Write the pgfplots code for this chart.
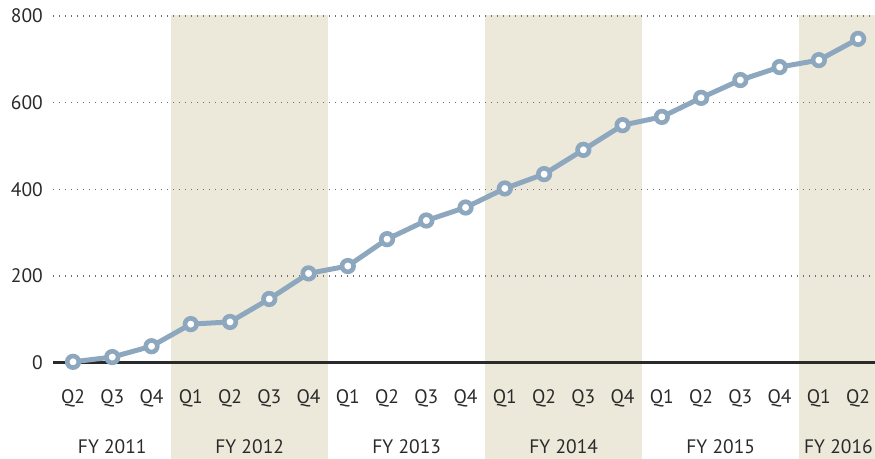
\documentclass[border=0pt]{standalone}
\usepackage{pgfplots}
\pgfplotsset{compat=1.18}
\usepackage{fontspec}
\setmainfont{PT Sans}
\definecolor{linec}{HTML}{8DA7BE}
\definecolor{band}{HTML}{EDE9DA}
\definecolor{txt}{HTML}{2A2A2A}
\definecolor{gridc}{HTML}{6E6E6E}
\begin{document}
\begin{tikzpicture}
\begin{axis}[
  set layers,
  at={(53pt,95.3pt)}, anchor=south west,
  scale only axis,
  width=822pt, height=346.8pt,
  xmin=-0.51, xmax=20.43,
  ymin=0, ymax=800,
  clip=false,
  axis line style={draw=none},
  major tick length=0pt,
  xtick={0,...,20},
  xticklabels={Q2,Q3,Q4,Q1,Q2,Q3,Q4,Q1,Q2,Q3,Q4,Q1,Q2,Q3,Q4,Q1,Q2,Q3,Q4,Q1,Q2},
  ytick={0,200,400,600,800},
  ymajorgrids,
  grid style={gridc, line width=1.4pt, dash pattern=on 1.4pt off 4.6pt},
  tick label style={font=\fontsize{19.5}{22}\selectfont, text=txt},
  yticklabel style={anchor=east, inner sep=0pt, xshift=-10pt},
  xticklabel style={anchor=center, inner sep=0pt, yshift=-36pt},
  /pgf/number format/assume math mode=true,
]
\begin{pgfonlayer}{axis background}
\fill[band] (axis cs:2.5,-240) rectangle (axis cs:6.5,803);
\fill[band] (axis cs:10.5,-240) rectangle (axis cs:14.5,803);
\fill[band] (axis cs:18.5,-240) rectangle (axis cs:20.6,803);
\end{pgfonlayer}
\draw[txt, line width=3pt] (axis cs:-0.51,0) -- (axis cs:20.43,0);
\addplot[color=linec, line width=5pt, mark=*, mark size=5.8pt,
  mark options={fill=white, draw=linec, line width=4.6pt}]
  coordinates {
  (0,2) (1,13) (2,38) (3,89) (4,94) (5,147) (6,206) (7,223) (8,285)
  (9,328) (10,358) (11,402) (12,435) (13,491) (14,548) (15,567)
  (16,611) (17,652) (18,682) (19,698) (20,747)
  };
\begin{scope}[every node/.style={font=\fontsize{19.5}{22}\selectfont, text=txt, inner sep=0pt, anchor=center}]
\node at ([yshift=-83.5pt]axis cs:1,0) {FY 2011};
\node at ([yshift=-83.5pt]axis cs:4.5,0) {FY 2012};
\node at ([yshift=-83.5pt]axis cs:8.5,0) {FY 2013};
\node at ([yshift=-83.5pt]axis cs:12.5,0) {FY 2014};
\node at ([yshift=-83.5pt]axis cs:16.5,0) {FY 2015};
\node at ([yshift=-83.5pt]axis cs:19.5,0) {FY 2016};
\end{scope}
\end{axis}
\pgfresetboundingbox
\path (0,0) rectangle (875pt,458pt);
\end{tikzpicture}
\end{document}
